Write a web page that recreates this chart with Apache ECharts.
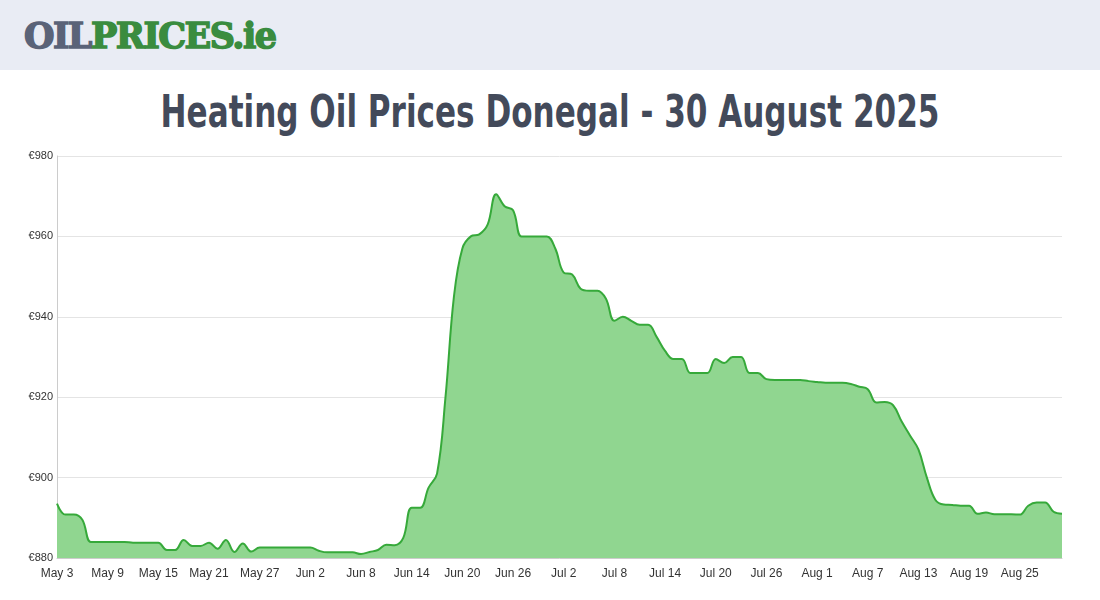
<!DOCTYPE html>
<html>
<head>
<meta charset="utf-8" />
<title>Heating Oil Prices Donegal</title>
<script src="https://cdn.jsdelivr.net/npm/echarts@6/dist/echarts.min.js"></script>
<style>
  body { margin: 0; background: #fff; font-family: "Liberation Sans", sans-serif; }
  .top { height: 70px; background: #e9ecf4; box-shadow: 0 2px 6px rgba(0,0,0,0.08); position: relative; }
  .logo { position: absolute; left: 24px; top: 15px; font-family: "DejaVu Serif", serif; font-weight: bold; font-size: 35px; letter-spacing: -1.5px; -webkit-text-stroke: 1.5px; }
  .logo .a { color: #5a6378; }
  .logo .b { color: #3a8c3f; }
  h1 { margin: 0; position: absolute; top: 86px; width: 1100px; text-align: center; font-family: "DejaVu Sans Condensed", "DejaVu Sans", sans-serif; font-stretch: condensed; font-weight: bold; font-size: 44px; color: #434a5a; transform: scaleX(0.785); transform-origin: 550px 0; }
</style>
</head>
<body>
<div class="top"><div class="logo"><span class="a">OIL</span><span class="b">PRICES.ie</span></div></div>
<h1>Heating Oil Prices Donegal - 30 August 2025</h1>
<div id="main" style="position:absolute;left:0;top:0;width:1100px;height:600px;"></div>
<script type="text/javascript">
    // daily dates May 3 .. Aug 30
    var months = ['Jan','Feb','Mar','Apr','May','Jun','Jul','Aug','Sep','Oct','Nov','Dec'];
    var dates = [];
    for (var d = new Date(2025, 4, 3); d <= new Date(2025, 7, 30); d.setDate(d.getDate() + 1)) {
        dates.push(months[d.getMonth()] + ' ' + d.getDate());
    }

    var prices = [
        893.5, 890.8, 890.8, 889.5, 884.0, 884.0, 884.0, 884.0, 884.0, 883.8,
        883.8, 883.8, 883.8, 882.0, 882.0, 884.5, 883.0, 883.0, 883.8, 882.3,
        884.5, 881.5, 883.6, 881.6, 882.6, 882.6, 882.6, 882.6, 882.6, 882.6,
        882.6, 881.8, 881.4, 881.4, 881.4, 881.4, 881.0, 881.5, 882.0, 883.3,
        883.2, 885.0, 892.5, 892.5, 897.5, 901.0, 920.0, 945.0, 957.0, 960.0,
        960.5, 963.0, 970.5, 967.5, 966.5, 960.0, 960.0, 960.0, 960.0, 957.0,
        951.0, 950.5, 947.0, 946.5, 946.5, 944.5, 939.0, 940.0, 939.0, 938.0,
        938.0, 935.0, 931.5, 929.5, 929.5, 926.0, 926.0, 926.0, 929.5, 928.5,
        930.0, 930.0, 926.0, 926.0, 924.5, 924.3, 924.3, 924.3, 924.3, 924.0,
        923.8, 923.6, 923.6, 923.6, 923.3, 922.6, 922.0, 918.7, 918.8, 918.0,
        914.0, 910.5, 907.0, 900.0, 894.5, 893.3, 893.2, 893.0, 893.0, 891.0,
        891.3, 890.9, 890.9, 890.9, 890.8, 893.0, 893.8, 893.8, 891.5, 891.0
    ];

    var yMin = 880, yMax = 980, yStep = 20;

    var myChart = echarts.init(document.getElementById('main'));
    var option = {
        animation: false,
        grid: { left: 57, right: 38, top: 156, bottom: 42 },
        xAxis: {
            type: 'category',
            data: dates,
            boundaryGap: false,
            axisLine: { lineStyle: { color: '#cccccc' } },
            axisTick: { show: false },
            axisLabel: { interval: 5, color: '#333', fontSize: 12, margin: 10 }
        },
        yAxis: {
            type: 'value',
            min: yMin, max: yMax, interval: yStep,
            axisLine: { show: true, lineStyle: { color: '#cccccc' } },
            axisLabel: { formatter: '€{value}', color: '#333', fontSize: 11, margin: 4 },
            splitLine: { lineStyle: { color: '#e4e4e4' } }
        },
        series: [{
            type: 'line',
            data: prices,
            smooth: 0.4,
            showSymbol: false,
            lineStyle: { color: '#36a93a', width: 2 },
            areaStyle: { color: '#90d690', opacity: 1 }
        }]
    };
    myChart.setOption(option);
</script>
</body>
</html>
